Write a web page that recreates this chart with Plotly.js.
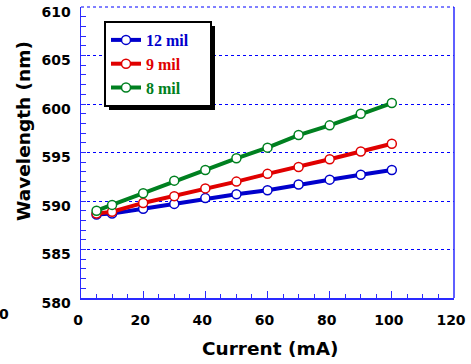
<!DOCTYPE html>
<html>
<head>
<meta charset="utf-8">
<script src="https://cdn.plot.ly/plotly-3.0.1.min.js"></script>
<style>html,body{margin:0;padding:0;background:#fff;}#chart{width:471px;height:364px;}</style>
</head>
<body>
<div id="chart"></div>
<script>
const current = [5, 10, 20, 30, 40, 50, 60, 70, 80, 90, 100];
const mil12 = [588.6, 588.7, 589.2, 589.7, 590.3, 590.7, 591.1, 591.7, 592.2, 592.7, 593.2];
const mil9  = [588.7, 588.9, 589.8, 590.5, 591.3, 592.0, 592.8, 593.5, 594.3, 595.1, 595.9];
const mil8  = [589.0, 589.6, 590.8, 592.1, 593.2, 594.4, 595.5, 596.8, 597.8, 599.0, 600.1];
const seriesNames = ['12 mil', '9 mil', '8 mil'];
const seriesColors = ['#0000cc', '#e00000', '#008020'];
const xTicks = [0, 20, 40, 60, 80, 100, 120];
const yTicks = [580, 585, 590, 595, 600, 605, 610];

const ys = [mil12, mil9, mil8];
const pad = '\u00a0\u00a0\u00a0\u00a0';
const traces = ys.map((y, i) => ({
  x: current, y: y, type: 'scatter', mode: 'lines+markers',
  name: '<span style="color:' + seriesColors[i] + '">' + seriesNames[i] + '</span>' + pad,
  line: {color: seriesColors[i], width: 4},
  marker: {symbol: 'circle', size: 9, color: '#ffffff', line: {color: seriesColors[i], width: 1.5}},
  cliponaxis: false
}));

const W = 471, H = 364, L = 81, R = 17, T = 7, B = 66;
const pw = W - L - R, ph = H - T - B;
const px = v => (v - L) / pw;
const py = v => (H - B - v) / ph;

const axisColor = '#2a2aff';
const tickFont = {family: 'DejaVu Sans', size: 14, color: '#000'};
const baseShapes = [
  {type: 'line', xref: 'paper', yref: 'paper', x0: 1, x1: 1, y0: 0, y1: 1,
   line: {color: axisColor, width: 1.5}},
  {type: 'line', xref: 'paper', yref: 'paper', x0: 0, x1: 1, y0: 1, y1: 1,
   line: {color: '#0000ff', width: 1, dash: 'dot'}}
];
const layout = {
  width: W, height: H,
  margin: {l: L, r: R, t: T, b: B, pad: 0},
  paper_bgcolor: '#fff', plot_bgcolor: '#fff',
  showlegend: true,
  legend: {
    x: px(104), y: py(21), xanchor: 'left', yanchor: 'top',
    bgcolor: '#fff', bordercolor: '#000', borderwidth: 2,
    font: {family: 'Liberation Serif', size: 16, weight: 'bold'},
    tracegroupgap: 0
  },
  xaxis: {
    range: [0, 120], tickvals: xTicks, ticktext: xTicks.map(String),
    showgrid: false, zeroline: false,
    showline: true, linecolor: axisColor, linewidth: 1.5,
    ticks: 'inside', ticklen: 7, tickcolor: axisColor, tickwidth: 1,
    minor: {ticks: 'inside', dtick: 5, ticklen: 4.5, tickcolor: axisColor, tickwidth: 1, showgrid: false},
    tickfont: Object.assign({weight: 'bold'}, tickFont),
    ticklabelstandoff: 9, ticklabelshift: -3, ticklabeloverflow: 'allow'
  },
  yaxis: {
    range: [580, 610], tickvals: yTicks, ticktext: yTicks.map(String),
    showgrid: true, gridcolor: '#0000ff', griddash: 'dot', gridwidth: 1,
    zeroline: false,
    showline: true, linecolor: axisColor, linewidth: 1.5,
    ticks: 'inside', ticklen: 5, tickcolor: axisColor, tickwidth: 1,
    minor: {ticks: 'inside', dtick: 1, ticklen: 5, tickcolor: axisColor, tickwidth: 1, showgrid: false},
    tickfont: Object.assign({weight: 'bold'}, tickFont),
    ticklabelstandoff: 6, ticklabelshift: 5, ticklabeloverflow: 'allow'
  },
  shapes: baseShapes,
  annotations: [
    {text: 'Current (mA)', xref: 'paper', yref: 'paper', x: px(270), y: py(348),
     xanchor: 'center', yanchor: 'middle',
     showarrow: false, font: {family: 'DejaVu Sans', size: 18.5, weight: 'bold', color: '#000'}},
    {text: 'Wavelength (nm)', xref: 'paper', yref: 'paper', x: px(23), y: py(131), textangle: -90,
     xanchor: 'center', yanchor: 'middle',
     showarrow: false, font: {family: 'DejaVu Sans', size: 18.5, weight: 'bold', color: '#000'}},
    {text: '0', xref: 'paper', yref: 'paper', x: px(3.5), y: py(314),
     xanchor: 'center', yanchor: 'middle',
     showarrow: false, font: {family: 'DejaVu Sans', size: 14, weight: 'bold', color: '#000'}}
  ]
};

Plotly.newPlot('chart', traces, layout, {displayModeBar: false, staticPlot: true}).then(gd => {
  const bg = gd.querySelector('.legend .bg');
  if (!bg) return;
  const r = bg.getBoundingClientRect();
  const g = gd.getBoundingClientRect();
  const x0 = r.left - g.left, y0 = r.top - g.top, x1 = r.right - g.left, y1 = r.bottom - g.top;
  const off = 4;
  const shadow = {type: 'rect', xref: 'paper', yref: 'paper',
    x0: px(x0 + off), x1: px(x1 + off), y0: py(y1 + off), y1: py(y0 + off),
    fillcolor: '#000', line: {width: 0}, layer: 'above'};
  Plotly.relayout(gd, {shapes: baseShapes.concat([shadow])});
});
</script>
</body>
</html>
